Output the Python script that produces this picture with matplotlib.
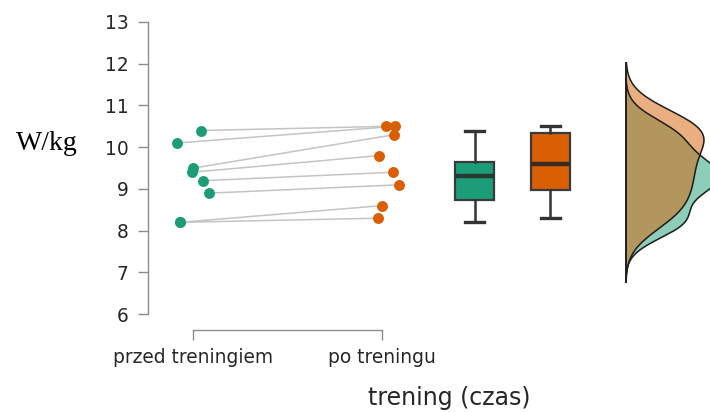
"""
Raincloud-style plot of power-to-weight before and after training:
paired points, box plots and half densities for both measurements.
"""

import numpy as np
import matplotlib.pyplot as plt

# Data: W/kg before and after training (paired, one row per athlete)
groups = ["przed treningiem", "po treningu"]
before = [10.4, 10.1, 9.5, 9.4, 9.2, 8.9, 8.2, 8.2]
after = [10.5, 10.5, 10.3, 9.8, 9.4, 9.1, 8.6, 8.3]

# Horizontal jitter of the points
jitter_before = [0.042, -0.086, 0.002, -0.007, 0.055, 0.085, -0.069, -0.069]
jitter_after = [0.021, 0.069, 0.065, -0.016, 0.060, 0.092, -0.002, -0.023]

y_ticks = [6, 7, 8, 9, 10, 11, 12, 13]

GREEN = "#1b9e77"
ORANGE = "#d95f02"


def bw_nrd0(values):
    """Silverman's rule of thumb bandwidth (as in R's bw.nrd0)."""
    values = np.asarray(values)
    q75, q25 = np.percentile(values, [75, 25])
    spread = min(values.std(ddof=1), (q75 - q25) / 1.34)
    return 0.9 * spread * len(values) ** -0.2


def kde(values, cut=3):
    """Gaussian kernel density of values, cut bandwidths past the data."""
    values = np.asarray(values)
    bw = bw_nrd0(values)
    grid = np.linspace(values.min() - cut * bw, values.max() + cut * bw, 400)
    z = (grid[:, None] - values[None, :]) / bw
    dens = np.exp(-0.5 * z ** 2).sum(axis=1) / (len(values) * bw * np.sqrt(2 * np.pi))
    return grid, dens


fig = plt.figure(figsize=(7.1, 4.12), dpi=100)
ax = fig.add_axes([148 / 710, 1 - 330 / 412, 1 - 148 / 710, 330 / 412])

# Lines joining each athlete's two measurements
x_before = 1 + np.array(jitter_before)
x_after = 2 + np.array(jitter_after)
for xb, xa, yb, ya in zip(x_before, x_after, before, after):
    ax.plot([xb, xa], [yb, ya], color="#c4c4c4", lw=1.1, zorder=1)

# Points
ax.scatter(x_before, before, s=62, color=GREEN, zorder=3, linewidths=0)
ax.scatter(x_after, after, s=62, color=ORANGE, zorder=3, linewidths=0)

# Box plots
bp = ax.boxplot([before, after], positions=[2.49, 2.89], widths=0.205,
                patch_artist=True, showfliers=False, capwidths=0.1,
                medianprops=dict(color="#263a32", lw=3.2),
                boxprops=dict(edgecolor="#3a3a3a", lw=1.6),
                whiskerprops=dict(color="#333333", lw=1.8),
                capprops=dict(color="#333333", lw=2.4))
for patch, col in zip(bp["boxes"], [GREEN, ORANGE]):
    patch.set_facecolor(col)
bp["medians"][1].set_color("#3a2a20")

# Half densities, drawn sideways from a common baseline
base = 3.29
curves = [kde(before), kde(after)]
scale = 0.413 / curves[1][1].max()
for (grid, dens), col in zip(curves, [GREEN, ORANGE]):
    ax.fill_betweenx(grid, base, base + dens * scale, color=col, alpha=0.5, lw=0)
for grid, dens in curves:
    ax.plot(base + dens * scale, grid, color="#1e1e1e", lw=1.1)
lo = min(g.min() for g, _ in curves)
hi = max(g.max() for g, _ in curves)
ax.plot([base, base], [lo, hi], color="#1e1e1e", lw=1.4)

# Axes styling
ax.set_xlim(0.762, 3.735)
ax.set_ylim(5.622, 13.526)
ax.set_xticks([1, 2])
ax.set_xticklabels(groups)
ax.set_yticks(y_ticks)
ax.spines["left"].set_bounds(6, 13)
ax.spines["bottom"].set_bounds(1, 2)
for side in ["top", "right"]:
    ax.spines[side].set_visible(False)
for side in ["left", "bottom"]:
    ax.spines[side].set_color("#8c8c8c")
    ax.spines[side].set_linewidth(1.0)
ax.tick_params(axis="both", colors="#8c8c8c", length=7, width=1.0,
               labelsize=13.4, labelcolor="#262626")
ax.tick_params(axis="y", pad=7)
ax.tick_params(axis="x", pad=6)
ax.patch.set_alpha(0)

fig.text(449 / 710, 1 - 398 / 412, "trening (czas)", fontsize=17,
         color="#262626", ha="center", va="center")
fig.text(47 / 710, 1 - 143 / 412, "W/kg", fontsize=20,
         family="Liberation Serif", ha="center", va="center")

plt.savefig("out.png", dpi=100)
